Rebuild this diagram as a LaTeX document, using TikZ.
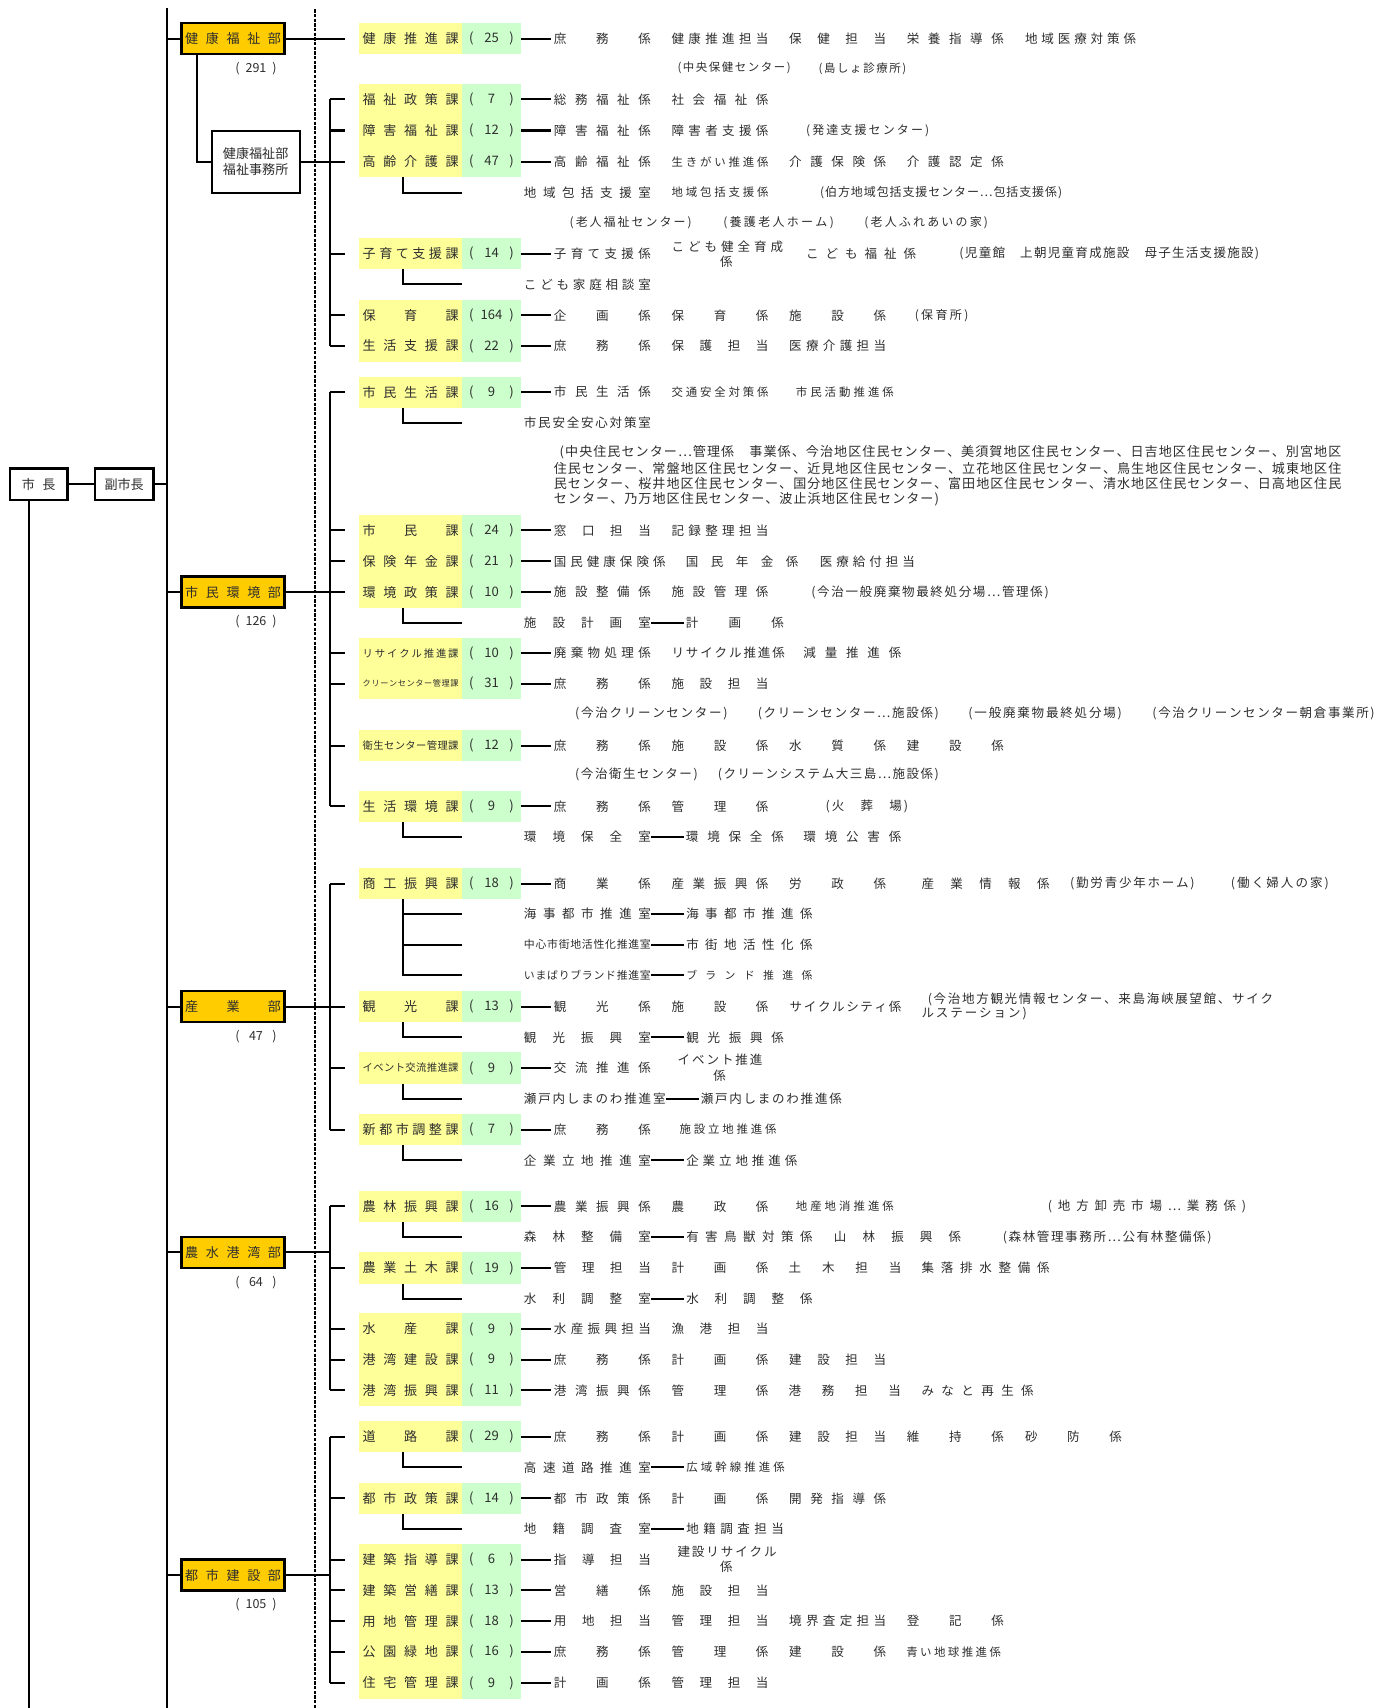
\documentclass[tikz,border=0pt]{standalone}
\usepackage{fontspec}
\setmainfont{Noto Sans CJK JP}
\definecolor{yel}{HTML}{FFFF99}
\definecolor{grn}{HTML}{CCFFCC}
\definecolor{org}{HTML}{FFCC00}
\definecolor{txtc}{HTML}{2E2E2E}
\newcounter{nd}
\def\sprA#1{\ifx#1\relax\else#1\expandafter\sprB\fi}
\def\sprB#1{\ifx#1\relax\else\hfill#1\expandafter\sprB\fi}
\tikzset{
 ln/.style={line width=1.85pt,draw=black},
 txt/.style={anchor=west,inner sep=0pt,outer sep=0pt,text=txtc},
 secy/.style={fill=yel,minimum width=94.5pt,minimum height=28.6pt,inner sep=0pt,outer sep=0pt,text=txtc},
 secg/.style={fill=grn,minimum width=54.5pt,minimum height=28.6pt,inner sep=0pt,outer sep=0pt,text=txtc},
 dept/.style={draw=black,line width=2.2pt,fill=org,minimum width=94.5pt,minimum height=28.5pt,inner sep=0pt,text=txtc},
 boss/.style={draw=black,line width=2.2pt,minimum height=29pt,inner sep=0pt,text=txtc},
 office/.style={draw=black,line width=1.85pt,minimum width=81pt,minimum height=57pt,inner sep=0pt,align=center,text=txtc,font=\fontsize{12}{14.5}\selectfont},
 cnt/.style={inner sep=0pt,text=txtc}
}
\NewDocumentCommand\Kn{m O{11.5} m m m m}{%
 \node[txt,name=#1] at (#3,#4) {\fontsize{#2}{#2}\selectfont\makebox[\dimexpr #5pt-#3pt\relax][s]{\sprA#6\relax}};}
\NewDocumentCommand\Kt{O{11.5} m m m m}{\stepcounter{nd}\edef\knm{T\arabic{nd}}\Kn{\knm}[#1]{#2}{#3}{#4}{#5}}
\NewDocumentCommand\SecRow{m m O{12} m m}{%
 \node[secy,name=#1] at (377,#2) {\fontsize{#3}{#3}\selectfont\makebox[88pt][s]{\sprA#4\relax}};
 \node[secg,name=#1n] at (451.25,#2) {\fontsize{12}{12}\selectfont\makebox[41pt][s]{(\hfill#5\hfill)}};
 \coordinate (#1b) at (303,#2);
 \coordinate (#1t) at (317,#2);
 \draw[ln] (#1b) -- (#1t);
 \draw[ln] (#1n.east) -- +(27.5pt,0pt);}
\NewDocumentCommand\SubRm{m m m}{%
 \coordinate (#2e) at (424.5,#3);
 \draw[ln] ([xshift=40.5pt]#1.south west) |- (#2e);}
\NewDocumentCommand\DeptBox{m m m m}{%
 \node[dept,name=#1] at (214,#2) {\fontsize{12}{12}\selectfont\makebox[88pt][s]{\sprA#3\relax}};
 \node[cnt,name=#1c] at (235,#2+27.5) {\fontsize{11.5}{11.5}\selectfont\makebox[38pt][s]{(\hfill#4\hfill)}};
 \draw[ln] (#1.west -| TT) -- (#1.west);}
\NewDocumentCommand\colA{O{11.5} m m}{\Kt[#1]{508.5}{#2}{597.5}{#3}}
\NewDocumentCommand\colB{O{11.5} m m}{\Kt[#1]{616.5}{#2}{705.5}{#3}}
\NewDocumentCommand\colC{O{11.5} m m}{\Kt[#1]{724.5}{#2}{813.5}{#3}}
\NewDocumentCommand\colD{O{11.5} m m}{\Kt[#1]{832.5}{#2}{921.5}{#3}}
\NewDocumentCommand\Room{m O{11.5} m m}{\Kn{#1}[#2]{481}{#3}{597.5}{#4}}
\NewDocumentCommand\Link{m m}{\draw[ln] (#1.east) -- ([xshift=-2pt]#2.west);}
\begin{document}
\begin{tikzpicture}[x=1pt,y=-1pt]
\useasboundingbox (0,0) rectangle (1264,1568);
\fill[white] (0,0) rectangle (1264,1568);
\coordinate (TT) at (153,7.6);
\coordinate (TB) at (153,1568);
\coordinate (DT) at (289,8.5);
\coordinate (DB) at (289,1568);
\draw[line width=1.5pt,dash pattern=on 3pt off 1.3pt] (DT) -- (DB);
\draw[ln] (TT) -- (TB);
\node[boss,minimum width=53pt,name=MY] at (35.5,444.5) {\fontsize{12}{12}\selectfont\makebox[31pt][s]{市\hfill 長}};
\node[boss,minimum width=53.5pt,name=VM] at (114,444.5) {\fontsize{12}{12}\selectfont 副市長};
\draw[ln] (MY.east) -- (VM.west);
\draw[ln] (VM.east) -- (VM.east -| TT);
\draw[ln] ([xshift=-8.5pt]MY.south) -- ([xshift=-8.5pt]MY.south |- TB);
% ===== 健康福祉部 =====
\DeptBox{KF}{35.5}{健康福祉部}{291}
\SecRow{A1}{35.5}{健康推進課}{25}
\draw[ln] (KF.east) -- (A1t);
\colA{35.5}{庶務係}\colB{35.5}{健康推進担当}\colC{35.5}{保健担当}\colD{35.5}{栄養指導係}\Kt{941}{35.5}{1043}{地域医療対策係}
\Kt[10.5]{622}{62.7}{726}{(中央保健センター)}\Kt[10.5]{751.5}{62.7}{832}{(島しょ診療所)}
\node[office,name=FO] at (234.7,148.4) {健康福祉部\\福祉事務所};
\draw[ln] ([xshift=-33pt]KF.south) |- (FO.west);
\SecRow{A2}{91.2}{福祉政策課}{7}
\colA{91.2}{総務福祉係}\colB{91.2}{社会福祉係}
\SecRow{A3}{119.8}{障害福祉課}{12}
\colA{119.8}{障害福祉係}\colB{119.8}{障害者支援係}\Kt[11]{740}{119.8}{853}{(発達支援センター)}
\SecRow{A4}{148.4}{高齢介護課}{47}
\colA{148.4}{高齢福祉係}\colB[10.5]{148.4}{生きがい推進係}\colC{148.4}{介護保険係}\colD{148.4}{介護認定係}
\SubRm{A4}{s1}{176.8}
\Room{rm1}{176.8}{地域包括支援室}
\colB[10.5]{176.8}{地域包括支援係}
\Kt[11]{753}{176.8}{975}{(伯方地域包括支援センター⋯包括支援係)}
\Kt[11]{523}{204.7}{635}{(老人福祉センター)}
\Kt[11]{664}{204.7}{765.5}{(養護老人ホーム)}
\Kt[11]{793.5}{204.7}{907}{(老人ふれあいの家)}
\SecRow{A5}{233}{子育て支援課}{14}
\colA{233}{子育て支援係}
\Kt{616.5}{226.4}{719}{こども健全育成}
\Kt{661}{240.7}{673}{係}
\Kt{740}{233}{841}{こども福祉係}
\Kt{880.8}{233}{1156}{(児童館　上朝児童育成施設　母子生活支援施設)}
\SubRm{A5}{s2}{261}
\Room{rm2}{261}{こども家庭相談室}
\SecRow{A6}{289.5}{保育課}{164}
\colA{289.5}{企画係}\colB{289.5}{保育係}\colC{289.5}{施設係}\Kt[11]{839.8}{289.5}{889}{(保育所)}
\SecRow{A7}{317.6}{生活支援課}{22}
\colA{317.6}{庶務係}\colB{317.6}{保護担当}\colC{317.6}{医療介護担当}
\draw[ln] (A2b) -- (A7b);
\draw[ln] (FO.east) -- (A4t);
% ===== 市民環境部 =====
\DeptBox{SK}{543.6}{市民環境部}{126}
\SecRow{B1}{360}{市民生活課}{9}
\colA{360}{市民生活係}\colB[10.5]{360}{交通安全対策係}\Kt[10.5]{730.6}{360}{820.6}{市民活動推進係}
\SubRm{B1}{s3}{388}
\Room{rm3}{388}{市民安全安心対策室}
\Kt[12]{513.8}{415.5}{1231.4}{(中央住民センター⋯管理係　事業係、今治地区住民センター、美須賀地区住民センター、日吉地区住民センター、別宮地区}
\Kt[12]{508.5}{430.4}{1231.4}{住民センター、常盤地区住民センター、近見地区住民センター、立花地区住民センター、鳥生地区住民センター、城東地区住}
\Kt[12]{508.5}{444.2}{1231.4}{民センター、桜井地区住民センター、国分地区住民センター、富田地区住民センター、清水地区住民センター、日高地区住民}
\Kt[12]{508.5}{458}{862}{センター、乃万地区住民センター、波止浜地区住民センター)}
\SecRow{B2}{487}{市民課}{24}
\colA{487}{窓口担当}\colB{487}{記録整理担当}
\SecRow{B3}{515.3}{保険年金課}{21}
\Kt{508.5}{515.3}{611}{国民健康保険係}\Kt{629.7}{515.3}{733}{国民年金係}\Kt{752.6}{515.3}{840}{医療給付担当}
\SecRow{B4}{543.6}{環境政策課}{10}
\draw[ln] (SK.east) -- (B4t);
\colA{543.6}{施設整備係}\colB{543.6}{施設管理係}\Kt{744.8}{543.6}{962.8}{(今治一般廃棄物最終処分場⋯管理係)}
\SubRm{B4}{s4}{571.5}
\Room{rm4}{571.5}{施設計画室}
\Kn{k4}{629.7}{571.5}{719.6}{計画係}
\Link{rm4}{k4}
\SecRow{B5}{599.6}[9.5]{リサイクル推進課}{10}
\colA{599.6}{廃棄物処理係}\Kt{616.5}{599.6}{720.5}{リサイクル推進係}\Kt{737.6}{599.6}{827.4}{減量推進係}
\SecRow{B6}{627.5}[7.5]{クリーンセンター管理課}{31}
\colA{627.5}{庶務係}\colB{627.5}{施設担当}
\Kt{528}{655.3}{668}{(今治クリーンセンター)}
\Kt{695.7}{655.3}{862}{(クリーンセンター⋯施設係)}
\Kt{889}{655.3}{1030}{(一般廃棄物最終処分場)}
\Kt{1058}{655.3}{1262}{(今治クリーンセンター朝倉事業所)}
\SecRow{B7}{684.4}[9.5]{衛生センター管理課}{12}
\colA{684.4}{庶務係}\colB{684.4}{施設係}\colC{684.4}{水質係}\colD{684.4}{建設係}
\Kt{528}{711.3}{640.6}{(今治衛生センター)}
\Kt{659}{711.3}{862}{(クリーンシステム大三島⋯施設係)}
\SecRow{B8}{740.3}{生活環境課}{9}
\colA{740.3}{庶務係}\colB{740.3}{管理係}\Kt{758}{740.3}{833.6}{(火　葬　場)}
\SubRm{B8}{s5}{768.5}
\Room{rm5}{768.5}{環境保全室}
\Kn{k5}{629.7}{768.5}{719.6}{環境保全係}
\Link{rm5}{k5}
\Kt{737.6}{768.5}{827.4}{環境公害係}
\draw[ln] (B1b) -- (B8b);
% ===== 産業部 =====
\DeptBox{SG}{924.2}{産業部}{47}
\SecRow{C1}{811.3}{商工振興課}{18}
\colA{811.3}{商業係}\colB{811.3}{産業振興係}\colC{811.3}{労政係}\Kt{846}{811.3}{963.6}{産業情報係}\Kt{982.5}{811.3}{1096.7}{(勤労青少年ホーム)}\Kt{1130}{811.3}{1220}{(働く婦人の家)}
\SubRm{C1}{s6}{839}\SubRm{C1}{s7}{867.3}\SubRm{C1}{s8}{895.4}
\Room{rm6}{839}{海事都市推進室}\Kn{k6}{630}{839}{746}{海事都市推進係}\Link{rm6}{k6}
\Room{rm7}[10]{867.3}{中心市街地活性化推進室}\Kn{k7}{630}{867.3}{746}{市街地活性化係}\Link{rm7}{k7}
\Room{rm8}[10]{895.4}{いまばりブランド推進室}\Kn{k8}[10]{630}{895.4}{746}{ブランド推進係}\Link{rm8}{k8}
\SecRow{C2}{924.2}{観光課}{13}
\draw[ln] (SG.east) -- (C2t);
\colA{924.2}{観光係}\colB{924.2}{施設係}\Kt{725}{924.2}{827.4}{サイクルシティ係}
\Kt{851.7}{917.8}{1168.7}{(今治地方観光情報センター、来島海峡展望館、サイク}
\Kt{846}{930.7}{942.6}{ルステーション)}
\SubRm{C2}{s9}{952.3}
\Room{rm9}{952.3}{観光振興室}\Kn{k9}{630}{952.3}{719.6}{観光振興係}\Link{rm9}{k9}
\SecRow{C3}{980.5}[9.5]{イベント交流推進課}{9}
\colA{980.5}{交流推進係}\Kt{622}{972.8}{700}{イベント推進}\Kt{655}{988}{667}{係}
\SubRm{C3}{s10}{1008.6}
\Kn{rm10}{481}{1008.6}{611}{瀬戸内しまのわ推進室}\Kn{k10}{643.4}{1008.6}{772.8}{瀬戸内しまのわ推進係}\Link{rm10}{k10}
\SecRow{C4}{1037}{新都市調整課}{7}
\colA{1037}{庶務係}\Kt[10.5]{624}{1037}{713}{施設立地推進係}
\SubRm{C4}{s11}{1065.2}
\Room{rm11}{1065.2}{企業立地推進室}\Kn{k11}{630}{1065.2}{732}{企業立地推進係}\Link{rm11}{k11}
\draw[ln] (C1b) -- (C4b);
% ===== 農水港湾部 =====
\DeptBox{NS}{1149.7}{農水港湾部}{64}
\SecRow{D1}{1107.5}{農林振興課}{16}
\colA{1107.5}{農業振興係}\colB{1107.5}{農政係}\Kt[10.5]{730.6}{1107.5}{820.6}{地産地消推進係}\Kt{962}{1107.5}{1144}{(地方卸売市場⋯業務係)}
\SubRm{D1}{s12}{1135.6}
\Room{rm12}{1135.6}{森林整備室}\Kn{k12}{630}{1135.6}{746}{有害鳥獣対策係}\Link{rm12}{k12}
\Kt{765.5}{1135.6}{882.4}{山林振興係}\Kt{920.6}{1135.6}{1112.3}{(森林管理事務所⋯公有林整備係)}
\SecRow{D2}{1164}{農業土木課}{19}
\colA{1164}{管理担当}\colB{1164}{計画係}\Kt{724}{1164}{827.4}{土木担当}\Kt{846}{1164}{963.6}{集落排水整備係}
\SubRm{D2}{s13}{1192.2}
\Room{rm13}{1192.2}{水利調整室}\Kn{k13}{630}{1192.2}{746}{水利調整係}\Link{rm13}{k13}
\SecRow{D3}{1220}{水産課}{9}
\colA{1220}{水産振興担当}\colB{1220}{漁港担当}
\SecRow{D4}{1248.2}{港湾建設課}{9}
\colA{1248.2}{庶務係}\colB{1248.2}{計画係}\colC{1248.2}{建設担当}
\SecRow{D5}{1276.3}{港湾振興課}{11}
\colA{1276.3}{港湾振興係}\colB{1276.3}{管理係}\Kt{724}{1276.3}{827}{港務担当}\Kt{846}{1276.3}{949}{みなと再生係}
\draw[ln] (D1b) -- (D5b);
\draw[ln] (NS.east) -- (NS.east -| D1b);
% ===== 都市建設部 =====
\DeptBox{TK}{1446}{都市建設部}{105}
\SecRow{E1}{1319}{道路課}{29}
\colA{1319}{庶務係}\colB{1319}{計画係}\colC{1319}{建設担当}\colD{1319}{維持係}\Kt{941}{1319}{1030}{砂防係}
\SubRm{E1}{s14}{1347}
\Room{rm14}{1347}{高速道路推進室}\Kn{k14}[10.5]{630}{1347}{720.5}{広域幹線推進係}\Link{rm14}{k14}
\SecRow{E2}{1375.5}{都市政策課}{14}
\colA{1375.5}{都市政策係}\colB{1375.5}{計画係}\colC{1375.5}{開発指導係}
\SubRm{E2}{s15}{1403.6}
\Room{rm15}{1403.6}{地籍調査室}\Kn{k15}{630}{1403.6}{719.6}{地籍調査担当}\Link{rm15}{k15}
\SecRow{E3}{1431.7}{建築指導課}{6}
\colA{1431.7}{指導担当}\Kt{622}{1424.5}{713}{建設リサイクル}\Kt{661}{1438}{673}{係}
\SecRow{E4}{1460}{建築営繕課}{13}
\colA{1460}{営繕係}\colB{1460}{施設担当}
\SecRow{E5}{1488.3}{用地管理課}{18}
\colA{1488.3}{用地担当}\colB{1488.3}{管理担当}\colC{1488.3}{境界査定担当}\colD{1488.3}{登記係}
\SecRow{E6}{1516.4}{公園緑地課}{16}
\colA{1516.4}{庶務係}\colB{1516.4}{管理係}\colC{1516.4}{建設係}\Kt[10.5]{832}{1516.4}{919}{青い地球推進係}
\SecRow{E7}{1545}{住宅管理課}{9}
\colA{1545}{計画係}\colB{1545}{管理担当}
\draw[ln] (E1b) -- (E7b);
\draw[ln] (TK.east) -- (TK.east -| E1b);
\end{tikzpicture}
\end{document}
